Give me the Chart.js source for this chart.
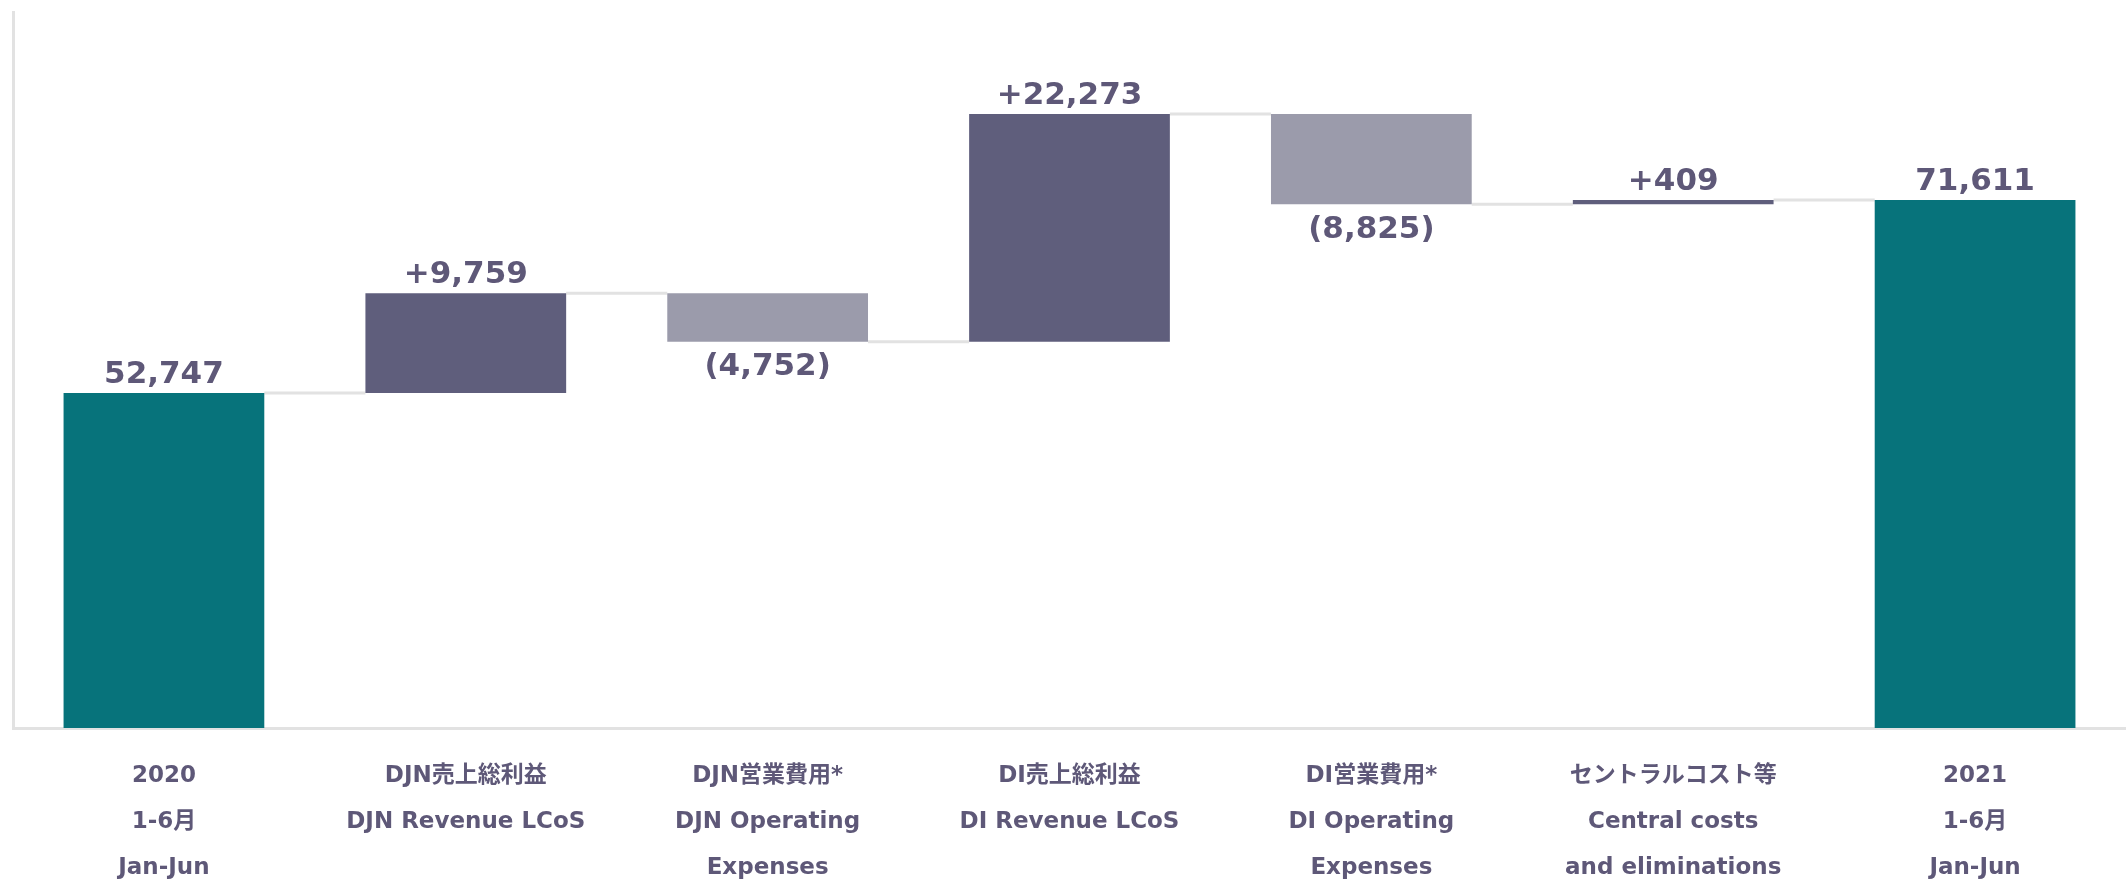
<!DOCTYPE html>
<html>
<head>
<meta charset="utf-8">
<script src="https://cdn.jsdelivr.net/npm/chart.js@4"></script>
<style>
  body { margin: 0; background: #fff; }
  canvas { display: block; }
</style>
</head>
<body>
<canvas id="chart" width="2126" height="881"></canvas>
<script>
const categories = [
  ["2020", "1-6月", "Jan-Jun"],
  ["DJN売上総利益", "DJN Revenue LCoS"],
  ["DJN営業費用*", "DJN Operating", "Expenses"],
  ["DI売上総利益", "DI Revenue LCoS"],
  ["DI営業費用*", "DI Operating", "Expenses"],
  ["セントラルコスト等", "Central costs", "and eliminations"],
  ["2021", "1-6月", "Jan-Jun"],
];
const startValue = 52747;
const changes = [9759, -4752, 22273, -8825, 409];
const endValue = 71611;

const teal = "#07737b";
const darkBar = "#5f5e7c";
const lightBar = "#9b9bab";
const textColor = "#5e5878";
const lineColor = "#e2e2e2";
const fontFamily = "'DejaVu Sans', 'Noto Sans CJK JP', sans-serif";

// build floating bars from running total
let running = startValue;
const floating = [[0, startValue]];
const levels = [startValue];
const colors = [teal];
const labels = [startValue.toLocaleString("en-US")];
for (const c of changes) {
  floating.push([running, running + c]);
  running += c;
  levels.push(running);
  colors.push(c >= 0 ? darkBar : lightBar);
  labels.push(c >= 0 ? "+" + c.toLocaleString("en-US") : "(" + Math.abs(c).toLocaleString("en-US") + ")");
}
floating.push([0, endValue]);
levels.push(endValue);
colors.push(teal);
labels.push(endValue.toLocaleString("en-US"));

//connectors between bars + value labels
const waterfallDecor = {
  id: "waterfallDecor",
  beforeDatasetsDraw(chart) {
    const ctx = chart.ctx;
    const meta = chart.getDatasetMeta(0);
    const y = chart.scales.y;
    ctx.save();
    ctx.strokeStyle = lineColor;
    ctx.lineWidth = 3;
    for (let i = 0; i < meta.data.length - 1; i++) {
      const a = meta.data[i];
      const b = meta.data[i + 1];
      const py = y.getPixelForValue(levels[i]);
      ctx.beginPath();
      ctx.moveTo(a.x + a.width / 2, py);
      ctx.lineTo(b.x - b.width / 2, py);
      ctx.stroke();
    }
    ctx.restore();
  },
  afterDatasetsDraw(chart) {
    const ctx = chart.ctx;
    const meta = chart.getDatasetMeta(0);
    const y = chart.scales.y;
    ctx.save();
    ctx.font = "bold 31px " + fontFamily;
    ctx.fillStyle = textColor;
    ctx.textAlign = "center";
    meta.data.forEach((bar, i) => {
      const lo = Math.min(...floating[i]);
      const hi = Math.max(...floating[i]);
      const negative = i > 0 && i < floating.length - 1 && changes[i - 1] < 0;
      if (negative) {
        ctx.textBaseline = "top";
        ctx.fillText(labels[i], bar.x, y.getPixelForValue(lo) + 10);
      } else {
        ctx.textBaseline = "bottom";
        ctx.fillText(labels[i], bar.x, y.getPixelForValue(hi) - 3);
      }
    });
    ctx.restore();
  },
};

new Chart(document.getElementById("chart"), {
  type: "bar",
  data: {
    labels: categories,
    datasets: [
      {
        data: floating,
        backgroundColor: colors,
        borderWidth: 0,
        borderSkipped: false,
        barPercentage: 0.665,
        categoryPercentage: 1,
      },
    ],
  },
  options: {
    responsive: false,
    animation: false,
    devicePixelRatio: 1,
    layout: { padding: { top: 12, left: 13, right: 0, bottom: 0 } },
    plugins: {
      legend: { display: false },
      tooltip: { enabled: false },
    },
    scales: {
      x: {
        grid: { display: false, drawTicks: false },
        border: { display: true, color: lineColor, width: 3 },
        ticks: {
          color: textColor,
          padding: 25,
          maxRotation: 0,
          autoSkip: false,
          font: { family: fontFamily, size: 23, weight: "bold", lineHeight: 2.0 },
        },
        afterFit(scale) {
          scale.height = 153;
        },
      },
      y: {
        min: 20000,
        max: 90000,
        grid: { display: false, drawTicks: false },
        border: { display: true, color: lineColor, width: 3 },
        ticks: { display: false },
      },
    },
  },
  plugins: [waterfallDecor],
});
</script>
</body>
</html>
